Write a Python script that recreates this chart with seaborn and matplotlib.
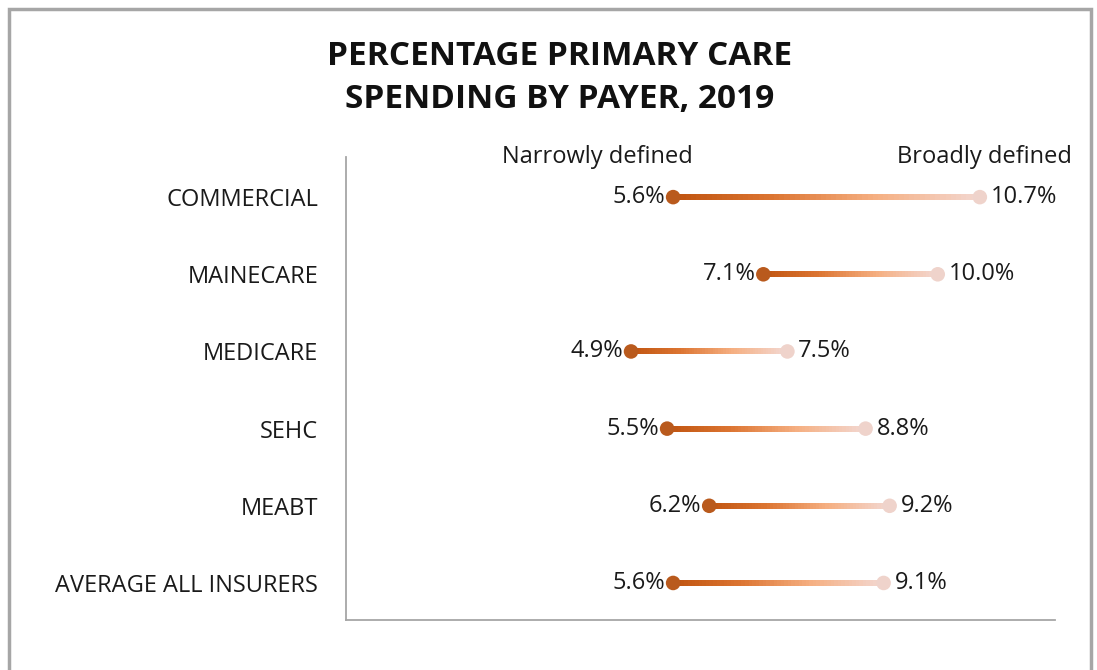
import numpy as np
import pandas as pd
import matplotlib.pyplot as plt
import seaborn as sns
from matplotlib.collections import LineCollection
from matplotlib.colors import LinearSegmentedColormap
from matplotlib.patches import Rectangle

# chart data
payers = ['COMMERCIAL', 'MAINECARE', 'MEDICARE', 'SEHC', 'MEABT', 'AVERAGE ALL INSURERS']
narrow = [5.6, 7.1, 4.9, 5.5, 6.2, 5.6]
broad = [10.7, 10.0, 7.5, 8.8, 9.2, 9.1]
headers = ['Narrowly defined', 'Broadly defined']

df = pd.DataFrame({'payer': payers, 'narrow': narrow, 'broad': broad})
df['row'] = np.arange(len(df))

sns.set_style('white')
plt.rcParams['font.family'] = ['Open Sans', 'DejaVu Sans']

fig = plt.figure(figsize=(10.97, 6.70), dpi=100)
ax = fig.add_axes([346 / 1097, 1 - 620 / 670, (1055 - 346) / 1097, (620 - 157) / 670])

dark = '#B95A1D'
light = '#EFD3CB'
grad = LinearSegmentedColormap.from_list('grad', ['#BF530F', '#DC7532', '#F5AE80', '#F3D5CC'])
txt = '#1a1a1a'
fs = 17

# gradient connecting lines
for _, r in df.iterrows():
    xs = np.linspace(r['narrow'], r['broad'], 60)
    pts = np.column_stack([xs, np.full_like(xs, r['row'])]).reshape(-1, 1, 2)
    segs = np.concatenate([pts[:-1], pts[1:]], axis=1)
    lc = LineCollection(segs, cmap=grad, linewidths=3.2, zorder=2, capstyle='projecting',
                        antialiaseds=False)
    lc.set_array(np.linspace(0, 1, len(segs)))
    ax.add_collection(lc)

sns.scatterplot(data=df, x='narrow', y='row', color=dark, s=110, edgecolor='none', zorder=3, ax=ax)
sns.scatterplot(data=df, x='broad', y='row', color=light, s=110, edgecolor='none', zorder=3, ax=ax)

# value labels
for _, r in df.iterrows():
    ax.text(r['narrow'] - 0.13, r['row'], f"{r['narrow']:.1f}%", ha='right', va='center',
            fontsize=fs, color=txt, zorder=4)
    ax.text(r['broad'] + 0.18, r['row'], f"{r['broad']:.1f}%", ha='left', va='center',
            fontsize=fs, color=txt, zorder=4)

# series headers above the first row
ax.text(df['narrow'].iloc[0] - 1.26, -0.52, headers[0], ha='center', va='center', fontsize=fs, color=txt)
ax.text(df['broad'].iloc[0] + 0.08, -0.52, headers[1], ha='center', va='center', fontsize=fs, color=txt)

ax.set_xlim(0.16, 11.95)
ax.set_ylim(5.48, -0.52)
ax.set_yticks(df['row'])
ax.set_yticklabels(payers, fontsize=fs, color=txt)
ax.tick_params(axis='y', length=0, pad=20)
ax.set_xticks([])
ax.set_xlabel('')
ax.set_ylabel('')
for side in ['top', 'right']:
    ax.spines[side].set_visible(False)
for side in ['left', 'bottom']:
    ax.spines[side].set_color('#A6A6A6')
    ax.spines[side].set_linewidth(1.3)

fig.text(560 / 1097, 1 - 78 / 670, 'PERCENTAGE PRIMARY CARE\nSPENDING BY PAYER, 2019', ha='center', va='center',
         fontsize=24, fontweight='bold', color='#111111', linespacing=1.38)

# outer chart border
fig.patches.append(Rectangle((9 / 1097, -0.05), (1091 - 9) / 1097, 1.05 - 9 / 670,
                             transform=fig.transFigure, fill=False, edgecolor='#A6A6A6', linewidth=2.5))

fig.savefig('out.png', dpi=100, facecolor='white')
